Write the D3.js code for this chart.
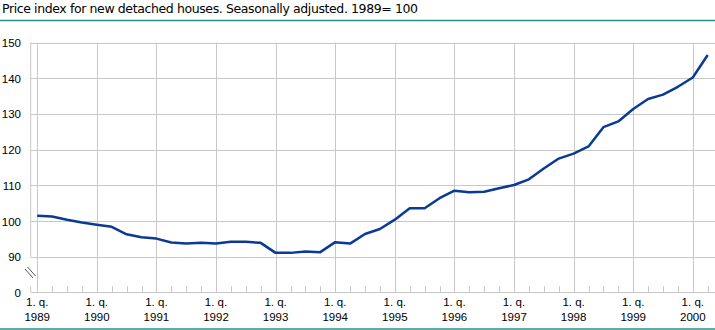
<!DOCTYPE html>
<html>
<head>
<meta charset="utf-8">
<script src="https://cdn.jsdelivr.net/npm/d3@7"></script>
<style>
  html, body { margin: 0; padding: 0; background: #fff; }
  svg { display: block; }
</style>
</head>
<body>
<svg id="chart" width="715" height="330"></svg>
<script>
const title = "Price index for new detached houses. Seasonally adjusted. 1989= 100";
const years = [1989, 1990, 1991, 1992, 1993, 1994, 1995, 1996, 1997, 1998, 1999, 2000];
const quarterLabel = "1. q.";
const yTicks = [0, 90, 100, 110, 120, 130, 140, 150];
// quarterly index values, 1989 Q1 .. 2000 Q2
const values = [
  101.5, 101.3, 100.4, 99.6,
  99.0, 98.4, 96.3, 95.5,
  95.1, 94.0, 93.7, 93.9,
  93.7, 94.2, 94.2, 93.9,
  91.1, 91.1, 91.5, 91.3,
  94.1, 93.7, 96.4, 97.8,
  100.4, 103.6, 103.6, 106.4,
  108.5, 108.1, 108.2, 109.2,
  110.1, 111.7, 114.7, 117.5,
  118.9, 120.9, 126.3, 127.9,
  131.4, 134.2, 135.4, 137.6,
  140.2, 146.5
];

const svg = d3.select("#chart");
const W = 715, H = 330;
const axisLeft = 30.7, plotRight = 715;
const yTop = 42.5, y90 = 256.8, yZero = 292.3;

const x = d3.scaleLinear().domain([0, values.length - 1]).range([37.2, 707.7]);
const y = d3.scaleLinear().domain([0, 90, 150]).range([yZero, y90, yTop]);

const grid = "#c8c8c8";
const font = "Liberation Sans, Arial, sans-serif";

// title
svg.append("text").attr("x", 2).attr("y", 13)
  .attr("font-family", "DejaVu Sans, sans-serif").attr("font-size", 12.5)
  .attr("textLength", 416).attr("lengthAdjust", "spacing")
  .attr("fill", "#000").text(title);
svg.append("line").attr("x1", 0).attr("x2", W).attr("y1", 20.5).attr("y2", 20.5)
  .attr("stroke", "#2a8f8c").attr("stroke-width", 1.5);
svg.append("line").attr("x1", 0).attr("x2", W).attr("y1", 329).attr("y2", 329)
  .attr("stroke", "#2a8f8c").attr("stroke-width", 1.5);

// horizontal gridlines
svg.append("g").selectAll("line").data(yTicks.filter(d => d > 0)).join("line")
  .attr("x1", axisLeft).attr("x2", plotRight)
  .attr("y1", d => Math.round(y(d)) + 0.5).attr("y2", d => Math.round(y(d)) + 0.5)
  .attr("stroke", grid).attr("stroke-width", 1);

// year gridlines
const yearIdx = years.map((yr, i) => i * 4);
svg.append("g").selectAll("line").data(yearIdx).join("line")
  .attr("x1", d => Math.round(x(d)) + 0.5).attr("x2", d => Math.round(x(d)) + 0.5)
  .attr("y1", yTop).attr("y2", yZero)
  .attr("stroke", grid).attr("stroke-width", 1);

// quarter tick marks
svg.append("g").selectAll("line").data(d3.range(values.length)).join("line")
  .attr("x1", d => Math.round(x(d)) + 0.5).attr("x2", d => Math.round(x(d)) + 0.5)
  .attr("y1", yZero - 6).attr("y2", yZero)
  .attr("stroke", grid).attr("stroke-width", 1);

// x axis line
svg.append("line").attr("x1", axisLeft).attr("x2", plotRight)
  .attr("y1", Math.round(yZero) + 0.5).attr("y2", Math.round(yZero) + 0.5)
  .attr("stroke", grid).attr("stroke-width", 1);

// y axis line with break
svg.append("line").attr("x1", axisLeft).attr("x2", axisLeft)
  .attr("y1", yTop).attr("y2", y(90)).attr("stroke", grid).attr("stroke-width", 1);
svg.append("line").attr("x1", axisLeft).attr("x2", axisLeft)
  .attr("y1", yZero - 6).attr("y2", yZero).attr("stroke", grid).attr("stroke-width", 1);
const brk = svg.append("g").attr("stroke", "#555").attr("stroke-width", 1);
brk.append("line").attr("x1", 25).attr("y1", 269).attr("x2", 33).attr("y2", 278);
brk.append("line").attr("x1", 27.5).attr("y1", 267).attr("x2", 35.5).attr("y2", 276);

// y labels
svg.append("g").selectAll("text").data(yTicks).join("text")
  .attr("x", 21).attr("y", d => y(d) + 4.5)
  .attr("text-anchor", "end").attr("font-family", font).attr("font-size", 11.5)
  .attr("fill", "#000").text(d => d);

// x labels
const xl = svg.append("g").selectAll("g").data(years).join("g")
  .attr("transform", (d, i) => `translate(${x(i * 4)},0)`);
xl.append("text").attr("y", 306).attr("text-anchor", "middle")
  .attr("font-family", font).attr("font-size", 11.5).attr("fill", "#000").text(quarterLabel);
xl.append("text").attr("y", 321).attr("text-anchor", "middle")
  .attr("font-family", font).attr("font-size", 11.5).attr("fill", "#000").text(d => d);

// line
svg.append("path").datum(values)
  .attr("d", d3.line().x((d, i) => x(i)).y(d => y(d)))
  .attr("fill", "none").attr("stroke", "#0a3a96").attr("stroke-width", 2.5)
  .attr("stroke-linejoin", "round");
</script>
</body>
</html>
